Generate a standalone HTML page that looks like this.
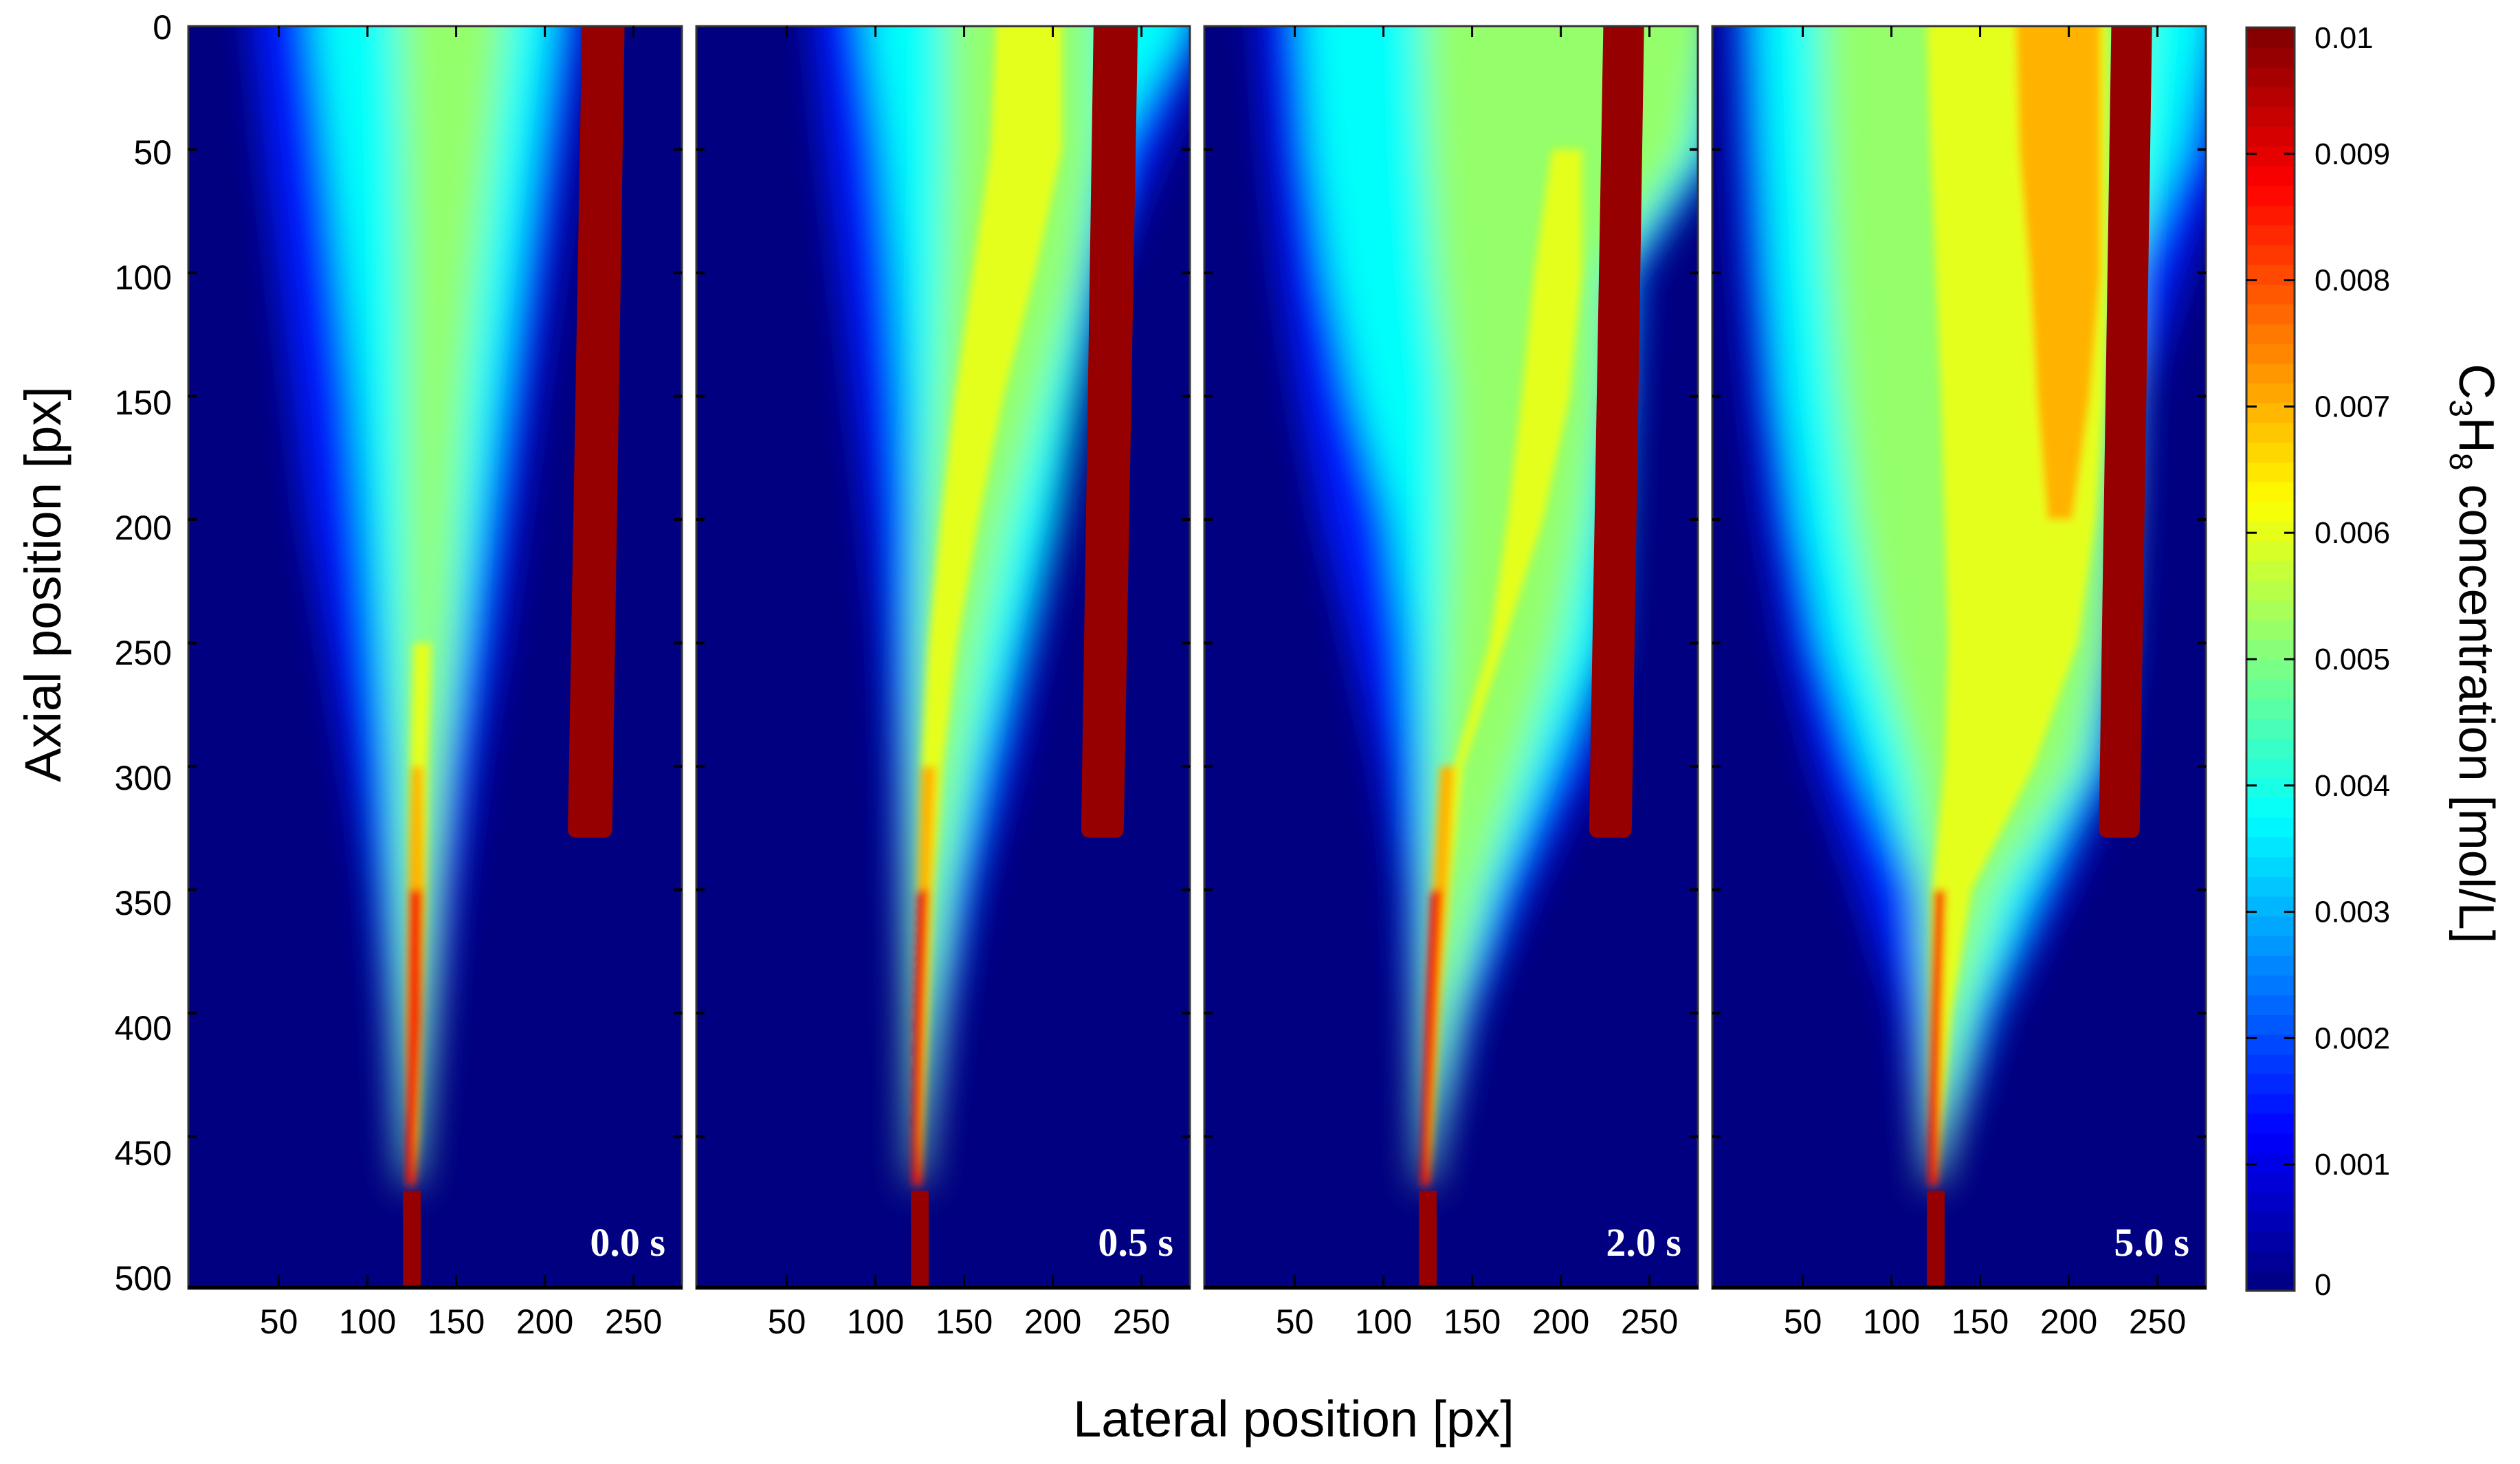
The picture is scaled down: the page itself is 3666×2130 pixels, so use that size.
<!DOCTYPE html>
<html><head><meta charset="utf-8"><style>
html,body{margin:0;padding:0;background:#fff;}
svg{display:block;font-family:"Liberation Sans",sans-serif;}
</style></head><body>
<svg id="chart" width="3666" height="2130" viewBox="0 0 3666 2130" xmlns="http://www.w3.org/2000/svg">
<defs>
<filter id="soft" x="-20%" y="-20%" width="140%" height="140%"><feGaussianBlur stdDeviation="26"/></filter>
<filter id="soft2" x="-20%" y="-20%" width="140%" height="140%"><feGaussianBlur stdDeviation="6"/></filter>
</defs>
<g id="panels"></g>
<g id="colorbar"></g>
<text x="0" y="0" transform="translate(88,850) rotate(-90)" text-anchor="middle" font-size="74">Axial position [px]</text>
<text x="1882" y="2090" text-anchor="middle" font-size="74">Lateral position [px]</text>
<text transform="translate(3578,951) rotate(90)" text-anchor="middle" font-size="72">C<tspan font-size="46" dy="14">3</tspan><tspan dy="-14">H</tspan><tspan font-size="46" dy="14">8</tspan><tspan dy="-14"> concentration [mol/L]</tspan></text>
</svg>
<script>
// ---- data ----
const panelLabels = ["0.0 s","0.5 s","2.0 s","5.0 s"];
const axialLevels = [0,50,100,150,200,250,300,350,400,450,470];
const contourValues = [0.0015,0.0038,0.0052,0.006,0.007,0.0088];
const xTicks = [50,100,150,200,250];
const yTicks = [0,50,100,150,200,250,300,350,400,450,500];
const cbTicks = [0,0.001,0.002,0.003,0.004,0.005,0.006,0.007,0.008,0.009,0.01];
const cbTickLabels = ["0","0.001","0.002","0.003","0.004","0.005","0.006","0.007","0.008","0.009","0.01"];
// contour boundaries (left / right lateral px) per panel, per contour level, per axial level
const p1L = [[35,42,50,58,66,78,90,102,111,117,121],[70,78,86,94,100,106,112,115,118,120,121],[118,120,121,121,121,121,121,121,121,122,122],[135,135,135,135,135,126,124,123,122,122,122],[130,130,130,130,130,130,125,123,122,122,122],[130,130,130,130,130,130,130,124,123,122,122]];
const p1R = [[225,215,205,195,185,175,162,150,140,131,128],[205,195,185,175,165,155,145,138,134,130,127],[178,170,162,155,150,146,141,137,133,129,127],[135,135,135,135,135,136,134,133,131,129,127],[130,130,130,130,130,130,131,132,131,128,127],[130,130,130,130,130,130,130,131,130,128,127]];
const p2L = [[65,72,80,88,96,103,109,113,117,119,121],[95,105,112,117,120,120,120,120,120,120,121],[140,140,138,135,130,127,124,122,121,121,121],[168,165,155,145,137,130,126,124,122,121,121],[180,180,180,180,180,180,126,124,122,121,121],[180,180,180,180,180,180,180,124,122,121,121]];
const p2R = [[290,262,232,215,205,192,178,158,142,131,127],[275,235,222,215,200,180,160,145,135,128,126],[225,225,215,195,175,160,148,138,132,128,126],[205,205,190,172,158,146,138,133,130,127,126],[180,180,180,180,180,180,134,131,128,126,126],[180,180,180,180,180,180,180,130,128,126,126]];
const p3L = [[30,35,42,52,65,82,98,110,115,119,121],[55,60,70,85,105,115,120,122,122,121,121],[122,124,128,135,135,133,130,127,124,122,121],[200,195,185,178,170,160,140,130,126,122,121],[190,190,190,190,190,190,132,128,124,122,121],[190,190,190,190,190,190,190,127,124,122,121]];
const p3R = [[290,290,245,240,235,232,218,183,152,133,127],[290,285,235,232,230,225,195,165,143,130,126],[285,272,225,225,215,200,178,155,138,128,126],[200,212,212,205,190,168,145,138,132,128,126],[190,190,190,190,190,190,140,136,131,127,126],[190,190,190,190,190,190,190,133,130,127,126]];
const p4L = [[8,10,14,20,28,40,58,82,104,116,121],[25,28,32,38,48,62,85,115,120,121,121],[60,62,65,70,78,90,110,120,122,121,121],[120,122,125,128,130,132,130,123,122,121,121],[170,172,178,182,188,190,190,124,122,121,121],[190,190,190,190,190,190,190,125,123,121,121]];
const p4R = [[290,290,265,242,237,234,228,198,162,136,127],[280,265,235,232,230,225,215,180,150,132,126],[240,235,232,230,228,222,205,160,140,130,126],[222,222,222,220,215,205,180,145,134,128,126],[218,218,218,212,202,190,190,131,129,127,126],[190,190,190,190,190,190,190,130,128,127,126]];
const rodTopL = [221,223,224,224];
const rodTopR = [245,248,247,247];
const rodBotL = [213,216,216,217];
const rodBotR = [238,240,240,240];
const rodEnd = [325,325,325,325];
const nozzleL = [120,120,120,120];
const nozzleR = [130,130,130,130];
const nozzleTop = [472,472,472,472];

// ---- layout ----
const NS="http://www.w3.org/2000/svg";
const panelLeft=[274,1013,1752,2491], panelW=718, panelTop=38, panelBot=1875;
const xs=(p,v)=>panelLeft[p]+(v+1)*2.58;
const ys=v=>38+v*3.59;
function jet(t){t=Math.max(0,Math.min(1,t));const c=x=>Math.round(255*Math.max(0,Math.min(1,x)));
 return `rgb(${c(1.5-Math.abs(4*t-3))},${c(1.5-Math.abs(4*t-2))},${c(1.5-Math.abs(4*t-1))})`;}
function mk(tag,attrs,parent){const e=document.createElementNS(NS,tag);for(const k in attrs)e.setAttribute(k,attrs[k]);parent.appendChild(e);return e;}
const allL=[p1L,p2L,p3L,p4L], allR=[p1R,p2R,p3R,p4R];
const panels=document.getElementById('panels');
for(let p=0;p<4;p++){
 const g=mk('g',{},panels);
 
 
 const cp=mk('clipPath',{id:'clip'+p},g);
 mk('rect',{x:panelLeft[p],y:panelTop,width:panelW,height:panelBot-panelTop},cp);
 const bg=mk('rect',{x:panelLeft[p],y:panelTop,width:panelW,height:panelBot-panelTop,fill:jet(0)},g);
 
 
 const cg=mk('g',{'clip-path':`url(#clip${p})`},g);
 const fgA=mk('g',{filter:'url(#soft)'},cg);
 const fgB=mk('g',{filter:'url(#soft2)'},cg);
 for(let k=0;k<contourValues.length;k++){
  const L=allL[p][k],R=allR[p][k];
  // split into contiguous runs of non-zero width
  const runs=[];let cur=[];
  for(let i=0;i<axialLevels.length;i++){
   if(R[i]-L[i]>0.5)cur.push(i);else{if(cur.length)runs.push(cur);cur=[];}
  }
  if(cur.length)runs.push(cur);
  for(const idx of runs){
   if(idx.length<2)continue;
   let pts=[];
   for(const i of idx)pts.push(xs(p,L[i])+','+ys(axialLevels[i]));
   for(let j=idx.length-1;j>=0;j--){const i=idx[j];pts.push(xs(p,R[i])+','+ys(axialLevels[i]));}
   if(idx[0]===0){pts.push(xs(p,R[0])+','+(ys(0)-80));pts.push(xs(p,L[0])+','+(ys(0)-80));}
   const poly=mk('polygon',{points:pts.join(' '),fill:jet(contourValues[k]/0.01)},k<3?fgA:fgB);
   
   
  }
 }
 const rod=mk('path',{d:`M${xs(p,rodTopL[p])},${ys(0)-5} L${xs(p,rodTopR[p])},${ys(0)-5} L${xs(p,rodBotR[p])},${ys(rodEnd[p])} Q${xs(p,rodBotR[p])},${ys(rodEnd[p])+14} ${xs(p,rodBotR[p])-12},${ys(rodEnd[p])+14} L${xs(p,rodBotL[p])+12},${ys(rodEnd[p])+14} Q${xs(p,rodBotL[p])},${ys(rodEnd[p])+14} ${xs(p,rodBotL[p])},${ys(rodEnd[p])} Z`,fill:'#960000'},cg);
 
 
 const nz=mk('rect',{x:xs(p,nozzleL[p]),y:ys(nozzleTop[p]),width:xs(p,nozzleR[p])-xs(p,nozzleL[p]),height:panelBot-ys(nozzleTop[p]),fill:'#960000'},cg);
 
 
 const fr=mk('rect',{x:panelLeft[p],y:panelTop,width:panelW,height:panelBot-panelTop,fill:'none',stroke:'#333',"stroke-width":3},g);
 
 
 mk('line',{x1:panelLeft[p],x2:panelLeft[p]+panelW,y1:panelBot-2,y2:panelBot-2,stroke:'#000','stroke-width':5},g);
 for(const t of xTicks){
  mk('line',{x1:xs(p,t),x2:xs(p,t),y1:panelBot,y2:panelBot-20,stroke:'#000','stroke-width':3},g);
  mk('line',{x1:xs(p,t),x2:xs(p,t),y1:panelTop,y2:panelTop+16,stroke:'#000','stroke-width':3},g);
  const tl=mk('text',{x:xs(p,t),y:1940,'text-anchor':'middle','font-size':50},g);
  tl.textContent=t;
  
  
 }
 for(const t of yTicks.slice(1,-1)){
  mk('line',{x1:panelLeft[p],x2:panelLeft[p]+12,y1:ys(t),y2:ys(t),stroke:'#000','stroke-width':4},g);
  mk('line',{x1:panelLeft[p]+panelW-12,x2:panelLeft[p]+panelW,y1:ys(t),y2:ys(t),stroke:'#000','stroke-width':4},g);
 }
 const lab=mk('text',{x:panelLeft[p]+panelW-24,y:1827,'text-anchor':'end','font-size':58,'font-weight':'bold',fill:'#fff','font-family':'Liberation Serif, serif'},g);
 lab.textContent=panelLabels[p];
 
 
}
for(const t of yTicks){
 const tl=mk('text',{x:250,y:40+t*3.64+17,'text-anchor':'end','font-size':50},panels);
 tl.textContent=t;
 
 
}
const cb=document.getElementById('colorbar');
const cbY=v=>1878-v/0.01*1838;
for(let i=0;i<64;i++){
 const v0=i/64*0.01,v1=(i+1)/64*0.01;
 const r=mk('rect',{x:3268,y:cbY(v1),width:70,height:cbY(v0)-cbY(v1)+1,fill:jet((i+0.5)/64)},cb);
 
 
}
mk('rect',{x:3268,y:cbY(0.01),width:70,height:cbY(0)-cbY(0.01),fill:'none',stroke:'#333','stroke-width':3},cb);
cbTicks.forEach((v,i)=>{
 if(i>0&&i<cbTicks.length-1){
  mk('line',{x1:3268,x2:3283,y1:cbY(v),y2:cbY(v),stroke:'#000','stroke-width':3},cb);
  mk('line',{x1:3323,x2:3338,y1:cbY(v),y2:cbY(v),stroke:'#000','stroke-width':3},cb);
 }
 const ty=i===cbTicks.length-1?cbY(v)+30:(i===0?cbY(v)+6:cbY(v)+15);
 const tl=mk('text',{x:3367,y:ty,'font-size':44},cb);
 tl.textContent=cbTickLabels[i];
 
 
});
</script>
</body></html>
